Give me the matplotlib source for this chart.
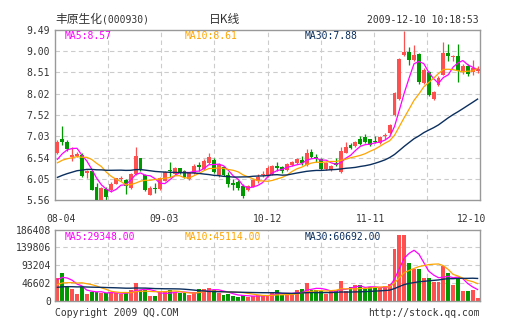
import numpy as np
import matplotlib
matplotlib.use("Agg")
import matplotlib.pyplot as plt

# --- daily candles 2009-08-04 .. 2009-12-10 (000930) --- #
opens = [6.64, 6.96, 6.89, 6.55, 6.58, 6.60, 6.19, 6.22, 5.87, 5.57,
         5.81, 5.78, 5.93, 6.04, 6.02, 5.84, 6.16, 6.52, 6.13, 5.68,
         5.84, 5.81, 6.01, 6.25, 6.16, 6.29, 6.23, 6.04, 6.19, 6.37,
         6.27, 6.41, 6.48, 6.14, 6.33, 6.14, 5.95, 5.97, 5.88, 5.79,
         5.87, 6.01, 6.14, 6.14, 6.16, 6.35, 6.33, 6.25, 6.37, 6.42,
         6.48, 6.37, 6.66, 6.56, 6.50, 6.27, 6.25, 6.42, 6.21, 6.65,
         6.84, 6.81, 6.98, 7.01, 6.96, 6.93, 6.88, 7.04, 7.11, 7.52,
         7.90, 8.92, 8.98, 8.80, 8.93, 8.26, 8.52, 7.90, 8.21, 8.46,
         8.96, 8.86, 8.88, 8.55, 8.65, 8.52, 8.55]
highs = [6.95, 7.27, 6.94, 6.78, 6.67, 6.64, 6.25, 6.25, 5.96, 5.86,
         5.87, 5.98, 6.08, 6.11, 6.04, 6.18, 6.78, 6.53, 6.15, 5.88,
         5.95, 6.09, 6.24, 6.45, 6.33, 6.31, 6.25, 6.21, 6.40, 6.45,
         6.50, 6.65, 6.52, 6.41, 6.35, 6.21, 6.04, 6.02, 5.93, 5.90,
         6.04, 6.17, 6.23, 6.35, 6.38, 6.45, 6.35, 6.41, 6.47, 6.52,
         6.57, 6.73, 6.75, 6.62, 6.52, 6.44, 6.37, 6.52, 6.78, 6.89,
         6.87, 6.93, 7.04, 7.09, 6.98, 7.05, 7.04, 7.11, 7.32, 8.05,
         8.84, 9.47, 9.09, 9.15, 8.96, 8.60, 8.55, 8.09, 8.42, 9.21,
         9.17, 8.92, 9.17, 8.70, 8.70, 8.80, 8.65]
lows = [6.62, 6.83, 6.69, 6.47, 6.55, 6.10, 6.06, 5.78, 5.55, 5.56,
        5.55, 5.75, 5.92, 5.99, 5.70, 5.82, 6.14, 6.23, 5.76, 5.67,
        5.72, 5.78, 5.99, 6.10, 6.14, 6.16, 6.08, 6.02, 6.16, 6.22,
        6.25, 6.39, 6.19, 6.10, 6.12, 5.87, 5.79, 5.78, 5.60, 5.77,
        5.85, 5.95, 6.10, 6.10, 6.14, 6.24, 6.18, 6.23, 6.35, 6.40,
        6.37, 6.35, 6.52, 6.45, 6.25, 6.25, 6.23, 6.35, 6.19, 6.64,
        6.73, 6.79, 6.83, 6.87, 6.80, 6.88, 6.86, 6.97, 7.09, 7.50,
        7.88, 8.90, 8.67, 8.77, 8.24, 8.24, 7.97, 7.88, 8.19, 8.44,
        8.77, 8.77, 8.29, 8.47, 8.42, 8.46, 8.50]
closes = [6.91, 6.90, 6.74, 6.60, 6.63, 6.12, 6.23, 5.80, 5.57, 5.83,
          5.63, 5.93, 6.06, 6.06, 5.88, 6.16, 6.58, 6.25, 5.78, 5.83,
          5.82, 6.06, 6.21, 6.22, 6.29, 6.18, 6.10, 6.19, 6.35, 6.32,
          6.47, 6.55, 6.21, 6.39, 6.14, 5.93, 5.91, 5.83, 5.65, 5.88,
          6.02, 6.10, 6.16, 6.30, 6.35, 6.29, 6.24, 6.39, 6.45, 6.50,
          6.41, 6.65, 6.56, 6.51, 6.27, 6.42, 6.35, 6.37, 6.70, 6.78,
          6.76, 6.91, 6.85, 6.90, 6.83, 6.91, 7.01, 7.06, 7.29, 8.03,
          8.82, 8.98, 8.80, 8.92, 8.29, 8.57, 7.99, 8.06, 8.38, 8.96,
          8.88, 8.88, 8.55, 8.65, 8.47, 8.60, 8.58]
volumes = [59600, 72700, 37700, 31600, 17600, 35100, 17600, 22800, 22800, 19300,
           19300, 22800, 19300, 17600, 19300, 29000, 46500, 29000, 27200, 13200,
           12300, 22000, 22000, 29000, 24000, 20000, 19000, 16000, 22000, 30000,
           32000, 34000, 27000, 20000, 14000, 17000, 13000, 11000, 14000, 10000,
           12000, 15000, 13000, 15800, 20200, 28100, 15800, 15800, 15800, 28100,
           30700, 46500, 29000, 28100, 26300, 17600, 26300, 26300, 52600, 26300,
           35100, 40300, 40300, 31600, 35100, 35100, 33300, 37700, 43800, 135000,
           171600, 171600, 100000, 84000, 84000, 60000, 60000, 49000, 49000, 90000,
           72000, 42100, 57800, 26300, 26300, 28100, 8200]

# closes / volumes of the 29 sessions before 08-04 (only feed the moving averages)
prior_closes = [5.50, 5.55, 5.60, 5.62, 5.70, 5.75, 5.78, 5.85, 5.88, 5.90,
                5.95, 6.00, 6.02, 6.05, 6.10, 6.12, 6.18, 6.20, 6.25, 6.30,
                6.30, 6.40, 6.38, 6.35, 6.27, 6.25, 6.29, 6.45, 6.60]
prior_volumes = [30000, 28000, 35000, 33000, 29000, 31000, 36000, 30000, 27000, 34000,
                 32000, 30000, 33000, 35000, 29000, 31000, 34000, 30000, 32000, 33000,
                 27000, 32000, 30000, 28000, 28000, 42000, 46400, 60000, 68000]

# values printed in the panel legends
price_ma_last = [8.57, 8.61, 7.88]
vol_ma_last = [29348.00, 45114.00, 60692.00]

price_ticks = [5.56, 6.05, 6.54, 7.03, 7.52, 8.02, 8.51, 9.00, 9.49]
vol_ticks = [0, 46602, 93204, 139806, 186408]
date_labels = ['08-04', '09-03', '10-12', '11-11', '12-10']
date_pos = [0.8, 21.8, 43.0, 64.1, 84.8]

RED = '#FF5050'
GREEN = '#009900'
C_MA5 = '#FF00FF'
C_MA10 = '#FFA500'
C_MA30 = '#0B2F5E'
TXT = '#333333'
MONO = 'DejaVu Sans Mono'
CJK = ['Noto Sans CJK SC', 'DejaVu Sans']


def moving_average(prior, values, n):
    full = np.array(prior + values, dtype=float)
    ma = np.convolve(full, np.ones(n) / n, mode='valid')
    return ma[-len(values):]


def legend(a, y, vals):
    names = ['MA5', 'MA10', 'MA30']
    cols = [C_MA5, C_MA10, C_MA30]
    xs = [0.023, 0.306, 0.588]
    for nm, v, col, xx in zip(names, vals, cols, xs):
        a.text(xx, y, '%s:%.2f' % (nm, v), transform=a.transAxes, color=col,
               family=MONO, fontsize=7, va='center')


n = len(closes)
x = np.arange(n)
o = np.array(opens)
c = np.array(closes)
up = c >= o
colors = [RED if u else GREEN for u in up]

fig = plt.figure(figsize=(5.05, 3.30), dpi=100)
fig.patch.set_facecolor('white')

ax = fig.add_axes([55 / 505, 1 - 200 / 330, 425 / 505, 170 / 330])
av = fig.add_axes([55 / 505, 1 - 300.7 / 330, 425 / 505, 71 / 330])

vgrid = -0.5 + np.arange(1, 8) * n / 8
for a in (ax, av):
    a.set_xlim(-0.5, n - 0.5)
    for s in a.spines.values():
        s.set_color('#999999')
        s.set_linewidth(1.0)
    for gx in vgrid:
        a.axvline(gx, color='#CCCCCC', lw=0.8, ls=(0, (4, 3)), zorder=0)
    a.tick_params(length=0, labelsize=7, labelcolor=TXT)

# --- price panel --- #
ax.set_ylim(price_ticks[0], price_ticks[-1])
for gy in price_ticks[1:-1]:
    ax.axhline(gy, color='#CCCCCC', lw=0.8, ls=(0, (4, 3)), zorder=0)
ax.vlines(x, lows, highs, colors=colors, lw=0.9, zorder=2)
body = np.maximum(np.abs(c - o), 0.015)
ax.bar(x, body, bottom=np.minimum(o, c), width=0.8, color=colors, lw=0, zorder=3)

ax.plot(x, moving_average(prior_closes, closes, 5), color=C_MA5, lw=0.9, zorder=4)
ax.plot(x, moving_average(prior_closes, closes, 10), color=C_MA10, lw=0.9, zorder=4)
ax.plot(x, moving_average(prior_closes, closes, 30), color=C_MA30, lw=1.0, zorder=4)

ax.set_yticks(price_ticks)
ax.set_yticklabels(['%.2f' % t for t in price_ticks], family=MONO)
ax.tick_params(axis='y', pad=4)
ax.set_xticks(date_pos)
ax.set_xticklabels(date_labels, family=MONO)
ax.tick_params(axis='x', pad=10)
legend(ax, 0.965, price_ma_last)

# --- volume panel --- #
av.set_ylim(vol_ticks[0], vol_ticks[-1])
for gy in vol_ticks[1:-1]:
    av.axhline(gy, color='#CCCCCC', lw=0.8, ls=(0, (4, 3)), zorder=0)
av.bar(x, volumes, width=0.8, color=colors, lw=0, zorder=2)
av.plot(x, moving_average(prior_volumes, volumes, 5), color=C_MA5, lw=0.9, zorder=3)
av.plot(x, moving_average(prior_volumes, volumes, 10), color=C_MA10, lw=0.9, zorder=3)
av.plot(x, moving_average(prior_volumes, volumes, 30), color=C_MA30, lw=1.0, zorder=3)
av.set_yticks(vol_ticks)
av.set_yticklabels([str(t) for t in vol_ticks], family=MONO)
av.tick_params(axis='y', pad=3)
av.set_xticks([])
legend(av, 0.9, vol_ma_last)

# --- header / footer --- #
fig.text(55 / 505, 1 - 20 / 330, '丰原生化', family=CJK, fontsize=8.5, color=TXT, va='center')
fig.text(102 / 505, 1 - 20 / 330, '(000930)', family=MONO, fontsize=7, color=TXT, va='center')
fig.text(225 / 505, 1 - 20 / 330, '日K线', family=CJK, fontsize=8.5, color=TXT,
         va='center', ha='center')
fig.text(479 / 505, 1 - 20 / 330, '2009-12-10 10:18:53', family=MONO, fontsize=7,
         color=TXT, va='center', ha='right')
fig.text(55 / 505, 1 - 312.5 / 330, 'Copyright 2009 QQ.COM', family=MONO, fontsize=7,
         color=TXT, va='center')
fig.text(480 / 505, 1 - 312.5 / 330, 'http://stock.qq.com', family=MONO, fontsize=7,
         color=TXT, va='center', ha='right')

fig.savefig('out.png', dpi=100, facecolor='white')
